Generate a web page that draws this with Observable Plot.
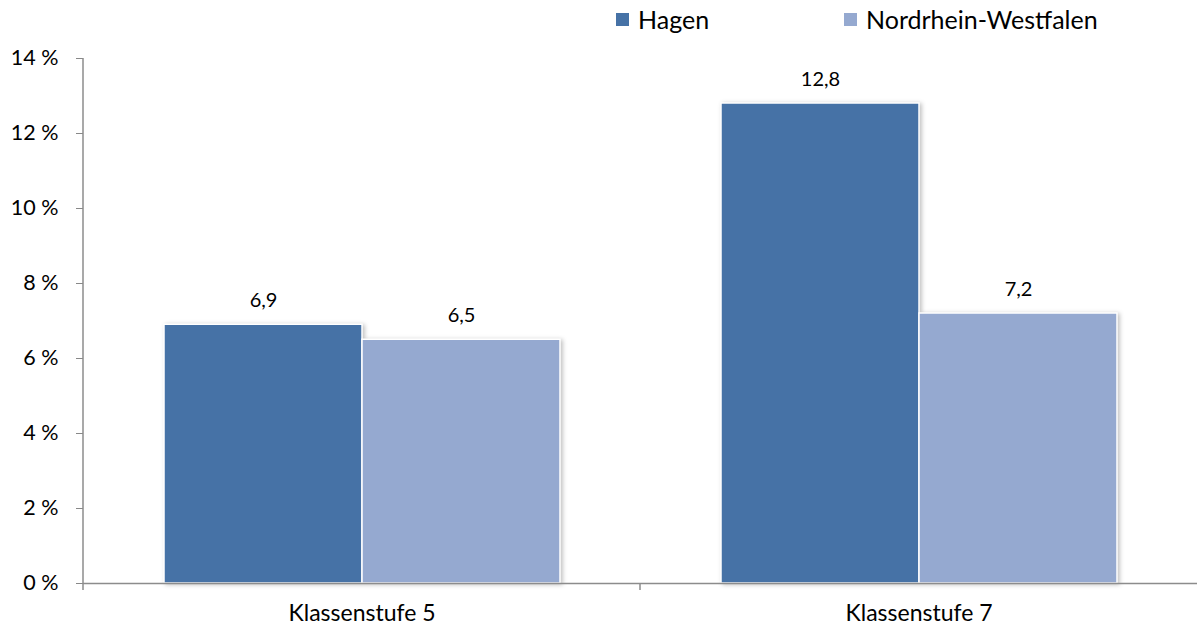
<!DOCTYPE html>
<html>
<head>
<meta charset="utf-8">
<script src="https://cdn.jsdelivr.net/npm/d3@7"></script>
<script src="https://cdn.jsdelivr.net/npm/@observablehq/plot@0.6"></script>
<style>
  html, body { margin: 0; padding: 0; background: #fff; }
  body { width: 1198px; height: 628px; overflow: hidden; font-family: Lato, "Open Sans", sans-serif; }
  #legend { height: 40px; position: relative; font-size: 25px; color: #000; }
  .item { position: absolute; top: 4px; display: flex; align-items: center; line-height: 30px; }
  .sw { width: 13px; height: 13px; margin-right: 9px; }
</style>
</head>
<body>
<div id="legend"></div>
<div id="chart"></div>
<script>
const categories = ["Klassenstufe 5", "Klassenstufe 7"];
const series = ["Hagen", "Nordrhein-Westfalen"];
const colors = ["#4672A6", "#95A9D0"];
const hagen = [6.9, 12.8];
const nrw = [6.5, 7.2];
const yTicks = [0, 2, 4, 6, 8, 10, 12, 14];

const data = [];
categories.forEach((c, i) => {
  data.push({cat: c, series: series[0], value: hagen[i]});
  data.push({cat: c, series: series[1], value: nrw[i]});
});

const fmt = v => String(v).replace(".", ",");

// legend
const legend = document.getElementById("legend");
const legendX = [616, 844];
series.forEach((s, i) => {
  const it = document.createElement("div");
  it.className = "item";
  it.style.left = legendX[i] + "px";
  it.innerHTML = `<span class="sw" style="background:${colors[i]}"></span><span>${s}</span>`;
  legend.appendChild(it);
});

const plot = Plot.plot({
  width: 1198,
  height: 588,
  marginLeft: 83,
  marginRight: 1,
  marginTop: 18,
  marginBottom: 45,
  style: {fontFamily: "Lato, 'Open Sans', sans-serif", fontSize: "20px", color: "#000", background: "#fff"},
  fx: {domain: categories, padding: 0, label: null},
  x: {domain: series, paddingInner: 0, paddingOuter: 0.4, axis: null},
  y: {domain: [0, 14], label: null},
  color: {domain: series, range: colors},
  marks: [
    Plot.axisY({ticks: yTicks, tickFormat: d => d + " %", tickSize: 7, tickPadding: 18, stroke: "#888", strokeOpacity: 1, fontSize: 21.5, fill: "#000"}),
    Plot.barY(data, {fx: "cat", x: "series", y: "value", fill: "series", stroke: "#fff", strokeWidth: 1.5, imageFilter: "drop-shadow(2px 1px 2px rgba(0,0,0,0.25))"}),
    Plot.text(data, {fx: "cat", x: "series", y: "value", text: d => fmt(d.value), dy: -24, fontSize: 20, fill: "#000"}),
    Plot.ruleY([0], {stroke: "#8c8c8c", strokeWidth: 1.5}),
    Plot.axisFx({anchor: "bottom", tickSize: 0, tickPadding: 21, fontSize: 23, label: null})
  ]
});
document.getElementById("chart").appendChild(plot);

// y axis line and category separator ticks, positioned with the plot's own scales
const svg = d3.select(plot);
const ys = plot.scale("y");
const fxs = plot.scale("fx");
const y0 = ys.apply(0), y14 = ys.apply(14);
const fx0 = fxs.apply(categories[0]);
svg.append("line").attr("x1", fx0).attr("x2", fx0).attr("y1", y14).attr("y2", y0 + 7)
  .attr("stroke", "#8c8c8c").attr("stroke-width", 1.5);
categories.slice(1).forEach(c => {
  const xx = fxs.apply(c);
  svg.append("line").attr("x1", xx).attr("x2", xx).attr("y1", y0).attr("y2", y0 + 7)
    .attr("stroke", "#8c8c8c").attr("stroke-width", 1.5);
});
</script>
</body>
</html>
